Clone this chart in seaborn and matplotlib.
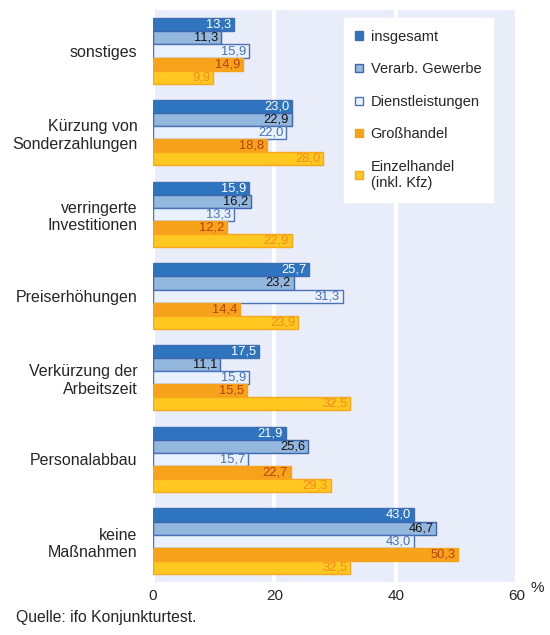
import matplotlib.pyplot as plt
import pandas as pd
import seaborn as sns
from matplotlib.patches import Patch

categories = [
    "sonstiges",
    "Kürzung von\nSonderzahlungen",
    "verringerte\nInvestitionen",
    "Preiserhöhungen",
    "Verkürzung der\nArbeitszeit",
    "Personalabbau",
    "keine\nMaßnahmen",
]
series = ["insgesamt", "Verarb. Gewerbe", "Dienstleistungen", "Großhandel", "Einzelhandel\n(inkl. Kfz)"]

insgesamt = [13.3, 23.0, 15.9, 25.7, 17.5, 21.9, 43.0]
verarb_gewerbe = [11.3, 22.9, 16.2, 23.2, 11.1, 25.6, 46.7]
dienstleistungen = [15.9, 22.0, 13.3, 31.3, 15.9, 15.7, 43.0]
grosshandel = [14.9, 18.8, 12.2, 14.4, 15.5, 22.7, 50.3]
einzelhandel = [9.9, 28.0, 22.9, 23.9, 32.5, 29.3, 32.5]

x_ticks = [0, 20, 40, 60]

fill_colors = ["#2F74BE", "#94B7DE", "#E8F1FC", "#F7A21B", "#FFC820"]
edge_colors = ["#3F6FB3", "#3A66B0", "#4C72B8", "#F7A21B", "#F9A51E"]
text_colors = ["white", "#111111", "#4A6FB5", "#B8410C", "#F68B1F"]

values = [insgesamt, verarb_gewerbe, dienstleistungen, grosshandel, einzelhandel]
df = pd.DataFrame(
    [(cat, s, v[i]) for s, v in zip(series, values) for i, cat in enumerate(categories)],
    columns=["category", "series", "value"],
)

sns.set_theme(style="white")
plt.rcParams["font.family"] = ["Liberation Sans", "DejaVu Sans"]

fig = plt.figure(figsize=(5.5, 6.35), dpi=100)
ax = fig.add_axes([0.278, 0.0835, 0.662, 0.9005])
ax.set_facecolor("#E9EDF9")

sns.barplot(
    data=df, x="value", y="category", hue="series", order=categories,
    hue_order=series, palette=fill_colors, width=0.8, ax=ax, legend=False,
    saturation=1, linewidth=1.0,
)

# value labels sit inside the bar end
for k, cont in enumerate(ax.containers):
    for p in cont.patches:
        p.set_edgecolor(edge_colors[k])
        w = p.get_width()
        ax.text(w - 0.45, p.get_y() + p.get_height() / 2,
                f"{w:.1f}".replace(".", ","), ha="right", va="center",
                fontsize=9.3, color=text_colors[k])

ax.set_xlim(0, 60)
ax.set_xticks(x_ticks)
ax.grid(axis="x", color="white", linewidth=3)
ax.set_axisbelow(True)
for s in ax.spines.values():
    s.set_visible(False)
ax.set_xlabel("")
ax.set_ylabel("")
ax.tick_params(axis="x", labelsize=11, length=0, pad=5)
ax.tick_params(axis="y", labelsize=11.5, length=0, pad=11)
for lbl in ax.get_yticklabels():
    lbl.set_ha("right")
    lbl.set_multialignment("right")

handles = [Patch(facecolor=fill_colors[k], edgecolor=edge_colors[k], linewidth=1.0)
           for k in range(len(series))]
leg = ax.legend(handles, series, loc="upper right", bbox_to_anchor=(0.934, 0.986),
                fontsize=10.5, frameon=True, fancybox=False, handlelength=0.5,
                handleheight=0.5, labelspacing=1.27, borderpad=0.8,
                handletextpad=0.55, borderaxespad=0)
leg.get_frame().set_facecolor("white")
leg.get_frame().set_edgecolor("white")
leg.get_frame().set_alpha(1)

fig.text(0.976, 0.074, "%", fontsize=11, ha="center", va="center")
fig.text(0.029, 0.027, "Quelle: ifo Konjunkturtest.", fontsize=11.3, ha="left", va="center")

fig.savefig("out.png", dpi=100)
